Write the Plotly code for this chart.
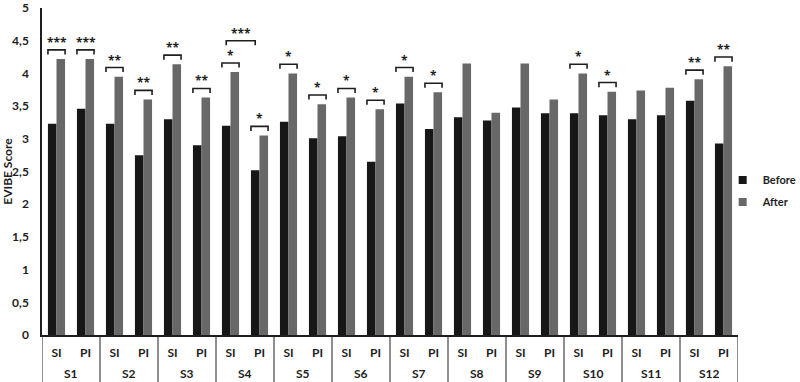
import plotly.graph_objects as go

# ---- data ----
studies = ["S1", "S2", "S3", "S4", "S5", "S6", "S7", "S8", "S9", "S10", "S11", "S12"]
subscales = ["SI", "PI"]

before = [3.23, 3.46, 3.23, 2.75, 3.30, 2.90, 3.20, 2.52,
          3.26, 3.01, 3.04, 2.65, 3.54, 3.15, 3.33, 3.28,
          3.48, 3.39, 3.39, 3.36, 3.30, 3.36, 3.58, 2.93]
after = [4.22, 4.22, 3.95, 3.60, 4.14, 3.63, 4.02, 3.05,
         4.00, 3.53, 3.63, 3.45, 3.95, 3.71, 4.15, 3.40,
         4.15, 3.60, 4.00, 3.72, 3.74, 3.78, 3.91, 4.11]
# significance of before/after comparison per bar pair ("" = none)
signif = ["***", "***", "**", "**", "**", "**", "*", "*",
          "*", "*", "*", "*", "*", "*", "", "",
          "", "", "*", "*", "", "", "**", "**"]
# extra comparison: S4 SI vs S4 PI
cross_pairs = [(6, 7, "***")]

inner = [sub for _ in studies for sub in subscales]
n = len(inner)
pos = list(range(n))
per = len(subscales)

C_BEFORE = "#171717"
C_AFTER = "#686868"
TXT = "#1e1e1e"
FONT = "Lato"
STAR_FONT = "Open Sans"

fig = go.Figure()
fig.add_trace(go.Bar(x=pos, y=before, name="Before", showlegend=False,
                     marker=dict(color=C_BEFORE, line_width=0)))
fig.add_trace(go.Bar(x=pos, y=after, name="After", showlegend=False,
                     marker=dict(color=C_AFTER, line_width=0)))
# legend entries (small square keys as in the reference)
for name, col in [("Before", C_BEFORE), ("After", C_AFTER)]:
    fig.add_trace(go.Scatter(x=[None], y=[None], mode="markers", name=name,
                             legendgroup=name,
                             marker=dict(symbol="square", size=8, color=col)))

bargap = 0.41
half = (1 - bargap) / 2          # width of one bar in category units
off = half / 2                   # center offset of each bar
step = 0.14                      # bracket height above after-bar
tick = 0.07

annotations = []
bracket_x, bracket_y = [], []
levels = {}
for i, (b, a, s) in enumerate(zip(before, after, signif)):
    if not s:
        continue
    lvl = max(a, b) + step
    levels[i] = lvl
    x0, x1 = i - half, i + half
    bracket_x += [x0, x0, x1, x1, None]
    bracket_y += [lvl - tick, lvl, lvl, lvl - tick, None]
    annotations.append(dict(x=i, y=lvl, xref="x", yref="y", text=s,
                            showarrow=False, yanchor="bottom", yshift=-3,
                            font=dict(family=STAR_FONT, size=12, color=TXT, weight="bold")))
for i, j, s in cross_pairs:
    lvl = max(levels.get(i, 0), levels.get(j, 0)) + 0.34
    x0, x1 = i - off, j - off
    bracket_x += [x0, x0, x1, x1, None]
    bracket_y += [lvl - tick, lvl, lvl, lvl - tick, None]
    annotations.append(dict(x=(x0 + x1) / 2, y=lvl, xref="x", yref="y", text=s,
                            showarrow=False, yanchor="bottom", yshift=-3,
                            font=dict(family=STAR_FONT, size=12, color=TXT, weight="bold")))

fig.add_trace(go.Scatter(x=bracket_x, y=bracket_y, mode="lines",
                         line=dict(color=TXT, width=1.6), showlegend=False,
                         hoverinfo="skip"))

# outer category labels (studies) and group dividers below the axis
shapes = []
for k, s in enumerate(studies):
    center = k * per + (per - 1) / 2
    annotations.append(dict(x=center, y=0, xref="x", yref="paper", text=s,
                            showarrow=False, yanchor="middle", yshift=-38,
                            font=dict(family=FONT, size=12, color=TXT, weight="bold")))
for k in range(len(studies) + 1):
    xb = k * per - 0.5
    shapes.append(dict(type="line", xref="x", yref="paper", x0=xb, x1=xb,
                       y0=0, y1=-0.16, line=dict(color=TXT, width=1)))

fig.update_layout(
    width=800, height=382,
    margin=dict(l=42, r=62, t=8, b=47, autoexpand=False),
    paper_bgcolor="white", plot_bgcolor="white",
    separators=",.",
    barmode="group", bargap=bargap, bargroupgap=0,
    font=dict(family=FONT, size=11, color=TXT, weight="bold"),
    showlegend=True,
    legend=dict(x=0.978, y=0.44, xanchor="left", yanchor="middle",
                font=dict(family=FONT, size=11, color=TXT, weight="bold"),
                itemwidth=30, tracegroupgap=3, bgcolor="rgba(0,0,0,0)"),
    xaxis=dict(showline=True, linecolor=TXT, linewidth=1.5,
               tickmode="array", tickvals=pos, ticktext=inner,
               showgrid=False, zeroline=False, ticks="", ticklabelstandoff=6,
               range=[-0.5, n - 0.5],
               tickfont=dict(family=FONT, size=12, color=TXT, weight="bold")),
    yaxis=dict(range=[0, 5], dtick=0.5, showline=True, linecolor=TXT, linewidth=1.5,
               showgrid=False, zeroline=False, ticks="", ticklabelstandoff=9,
               ticklabeloverflow="allow",
               tickfont=dict(family=FONT, size=12, color=TXT, weight="bold"),
               title=dict(text="EVIBE Score", standoff=8,
                          font=dict(family=FONT, size=12, color=TXT, weight="bold"))),
    annotations=annotations,
    shapes=shapes,
)

fig.write_html("out.html", config={"displayModeBar": False},
               post_script="document.body.style.margin='0';")
